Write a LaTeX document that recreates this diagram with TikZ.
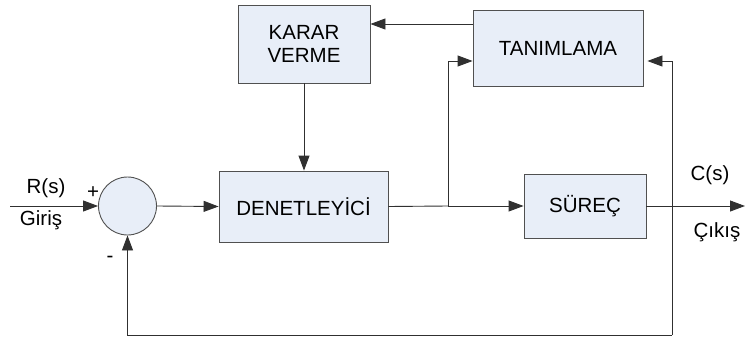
\documentclass[tikz,border=0pt]{standalone}
\usepackage{fontspec}
\setmainfont{Liberation Sans}
\usetikzlibrary{arrows.meta,calc}
\definecolor{boxfill}{HTML}{E8EEF8}
\definecolor{boxline}{HTML}{505050}
\definecolor{wire}{HTML}{303030}
\begin{document}
\begin{tikzpicture}[x=1pt,y=-1pt,
  font=\fontsize{20.5}{24}\selectfont,
  block/.style={draw=boxline,fill=boxfill,line width=0.9pt,inner sep=0pt,align=center},
  wireline/.style={draw=wire,line width=0.9pt},
  arr/.style={wireline,-{Triangle[length=15pt,width=11pt]}}]
\useasboundingbox (0,0) rectangle (747,340);

% blocks
\node[block,circle,minimum size=58pt] (sum) at (127.5,206) {};
\node[block,minimum width=169pt,minimum height=71pt] (den) at (303.5,206.5) {DENETLEYİCİ};
\node[block,minimum width=122pt,minimum height=64pt] (sur) at (585,206) {SÜREÇ};
\node[block,minimum width=170pt,minimum height=76pt] (tan) at (558,48) {TANIMLAMA};
\node[block,minimum width=132pt,minimum height=78pt] (kar) at (304,44) {KARAR\\[-1pt]VERME};

% helper points
\coordinate (in) at (10,206);
\coordinate (br) at (448,206);
\coordinate (out) at (745,206);
\coordinate (fbtop) at (672,61);
\coordinate (fbbot) at (672,335);

% labels
\node (rs) at (46,188) {R(s)};
\node (gir) at (41,220) {Giriş};
\node (plus) at (93,193) {+};
\node (minus) at (110,259) {-};
\node (cs) at (710,175) {C(s)};
\node (cik) at (717,232) {Çıkış};

% forward path
\draw[arr] (in) -- (sum.west);
\draw[arr] (sum.east) -- (den.west);
\draw[wireline] (den.east) -- (br);
\draw[arr] (br) -- (sur.west);
\draw[arr] (sur.east) -- (out);

% identification and decision loop
\draw[arr] (br) |- (tan.west |- 0,61);
\draw[arr] (tan.west |- 0,24) -- (kar.east |- 0,24);
\draw[arr] (kar.south) -- (den.north -| kar.south);

% feedback
\draw[arr] (fbtop) -- ($(tan.east |- fbtop)+(4,0)$);
\draw[wireline] (fbtop) -- (fbbot);
\draw[arr] (fbbot) -| (sum.south);
\end{tikzpicture}
\end{document}
